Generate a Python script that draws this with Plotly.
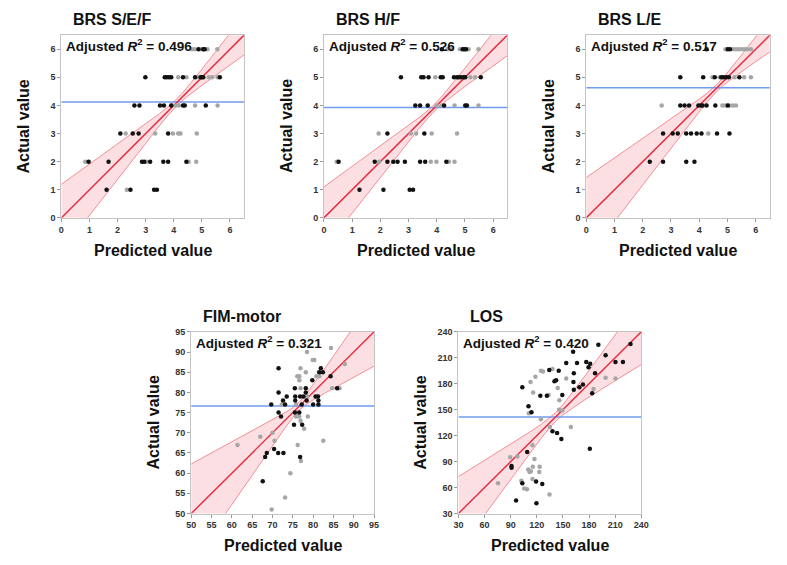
import plotly.graph_objects as go

W, H = 787, 565
FONT = "Liberation Sans, Arial, Helvetica, sans-serif"

# ---------------- data ----------------
titles = ["BRS S/E/F", "BRS H/F", "BRS L/E", "FIM-motor", "LOS"]
r2_labels = ["0.496", "0.526", "0.517", "0.321", "0.420"]
mean_actual = [4.12, 3.93, 4.63, 76.6, 141.5]
axis_ranges = [[0, 6.5], [0, 6.5], [0, 6.5], [50, 95], [30, 240]]
tick_vals = [[0, 1, 2, 3, 4, 5, 6], [0, 1, 2, 3, 4, 5, 6], [0, 1, 2, 3, 4, 5, 6],
             [50, 55, 60, 65, 70, 75, 80, 85, 90, 95],
             [30, 60, 90, 120, 150, 180, 210, 240]]

# panel 1: BRS S/E/F
p1_black_x = [4.88, 5.05, 5.1,
              2.99, 3.68, 3.75, 3.83, 3.91, 4.33, 4.76, 4.96, 5.0, 5.05, 5.64,
              2.6, 2.78, 3.51, 3.65, 3.91, 4.33, 4.39, 5.14,
              2.1, 2.54, 2.75, 3.8,
              0.97, 1.68, 2.87, 2.95, 3.16, 3.63, 3.8, 4.45,
              1.61, 2.46, 3.3, 3.4]
p1_black_y = [6] * 3 + [5] * 11 + [4] * 8 + [3] * 4 + [2] * 8 + [1] * 4
p1_gray_x = [4.65, 4.75, 4.98, 5.2, 5.55,
             4.16, 4.45, 4.88, 5.25, 5.37, 5.56,
             4.06, 4.18, 4.76, 5.56,
             2.29, 3.34, 3.97, 4.16, 4.24, 4.82,
             0.85, 3.03, 4.53, 4.8,
             2.33]
p1_gray_y = [6] * 5 + [5] * 6 + [4] * 4 + [3] * 6 + [2] * 4 + [1] * 1

# panel 2: BRS H/F
p2_black_x = [4.18, 4.92, 4.98, 5.04,
              2.73, 3.45, 3.53, 3.71, 4.14, 4.21, 4.61, 4.72, 4.78, 4.86, 4.96, 5.01, 5.56,
              3.24, 3.41, 3.68, 4.26, 5.01, 5.07,
              2.25, 3.56,
              0.52, 1.8, 2.25, 2.46, 2.61, 2.87, 3.41, 3.59, 4.34,
              1.26, 2.11, 3.04, 3.16]
p2_black_y = [6] * 4 + [5] * 13 + [4] * 6 + [3] * 2 + [2] * 9 + [1] * 4
p2_gray_x = [4.38, 4.53, 4.82, 5.13, 5.48,
             3.95, 5.19, 5.36,
             4.0, 4.17, 4.63, 5.48,
             1.94, 3.08, 3.27, 3.82, 4.72,
             0.45, 1.96, 3.79, 3.99, 4.43, 4.63]
p2_gray_y = [6] * 5 + [5] * 3 + [4] * 4 + [3] * 5 + [2] * 6

# panel 3: BRS L/E
p3_black_x = [4.26, 5.01, 5.09,
              3.33, 4.14, 4.55, 4.78, 4.86, 4.96, 5.05, 5.42,
              3.33, 3.48, 3.64, 3.97, 4.06, 4.12, 4.26, 4.57, 5.01,
              2.72, 3.06, 3.24, 3.54, 3.71, 3.91, 4.08, 4.63, 5.07,
              2.25, 2.72, 3.54, 3.83]
p3_black_y = [6] * 3 + [5] * 8 + [4] * 9 + [3] * 9 + [2] * 4
p3_gray_x = [4.93, 5.2, 5.3, 5.4, 5.5, 5.6, 5.7, 5.83,
             4.47, 4.72, 5.25, 5.59, 5.83,
             2.67, 4.82, 4.93, 5.07, 5.19, 5.3,
             4.32]
p3_gray_y = [6] * 8 + [5] * 5 + [4] * 6 + [3] * 1

# panel 4: FIM-motor
p4_black_x = [71.5, 81.9, 81.5, 82.4, 84.3, 79.8, 85.9, 71.5, 75.5, 78.2, 78.2, 73.5,
              72.6, 75.6, 75.6, 76.8, 77.6, 80.6, 81.2, 81.3, 78.4, 69.7, 73.1, 77.2,
              80.0, 81.3, 71.5, 75.5, 76.6, 72.1, 75.3, 77.3, 70.4, 68.6, 71.4, 72.7,
              68.2, 76.8, 67.6]
p4_black_y = [86, 86, 85, 85, 84, 83, 81, 80, 81, 81, 80, 79,
              78, 79, 78, 79, 79, 79, 79, 78, 78, 77, 77, 77,
              77, 77, 75, 75, 75, 74, 72, 72, 66, 65, 65, 65,
              64, 64, 58]
p4_gray_x = [84.4, 78.5, 79.9, 80.3, 76.9, 87.8, 76.1, 76.6, 78.2, 80.8, 81.5, 76.6,
             84.7, 86.5, 76.9, 78.5, 72.3, 75.8, 76.2, 75.8, 76.6, 78.7, 76.9, 77.8,
             70.0, 70.5, 67.0, 61.4, 76.2, 82.5, 77.0, 74.4, 73.1, 69.8]
p4_gray_y = [91, 90, 88, 88, 86, 87, 84, 84, 85, 84, 84, 83,
             81, 81, 81, 79, 77, 77, 75, 74, 74, 74, 73, 71,
             70, 68, 69, 67, 67, 68, 63, 60, 54, 51]

# panel 5: LOS
p5_black_x = [227.6, 190.7, 161.7, 199.0, 210.3, 218.9, 176.8, 179.4, 181.3, 166.2,
              153.8, 145.2, 134.3, 162.5, 186.9, 140.3, 142.2, 162.1, 173.0, 168.9,
              103.4, 183.6, 162.5, 124.1, 131.6, 149.3, 110.5, 113.9, 138.0, 143.3,
              148.2, 180.9, 109.0, 91.0, 91.0, 103.4, 119.2, 126.3, 96.2, 119.6]
p5_black_y = [226, 225, 217, 213, 205, 205, 205, 199, 203, 204,
              204, 195, 196, 192, 192, 183, 184, 182, 179, 176,
              176, 169, 173, 166, 166, 167, 154, 147, 125, 123,
              116, 105, 101, 85, 83, 65, 67, 64, 45, 42]
p5_gray_x = [124.8, 127.1, 138.0, 199.0, 210.3, 118.4, 112.8, 153.8, 144.0, 115.8,
             185.1, 133.5, 145.9, 110.9, 145.5, 149.3, 124.8, 135.0, 159.1, 115.1,
             117.3, 89.5, 97.7, 115.4, 113.2, 111.7, 123.3, 122.9, 110.2, 115.1,
             102.3, 75.5, 105.6, 108.7, 134.6]
p5_gray_y = [195, 194, 197, 187, 186, 188, 182, 186, 175, 170,
             174, 167, 161, 146, 150, 149, 139, 130, 130, 109,
             93, 95, 96, 84, 79, 78, 84, 78, 81, 70,
             68, 65, 59, 58, 52]

# confidence bands
band_x = [
    [0, 0.5, 1, 1.5, 2, 2.5, 3, 3.5, 3.8, 4.1, 4.4, 4.7, 5, 5.5, 6, 6.5],
    [0, 0.5, 1, 1.5, 2, 2.5, 3, 3.4, 3.7, 3.92, 4.2, 4.5, 5, 5.5, 6, 6.5],
    [0, 0.5, 1, 1.5, 2, 2.5, 3, 3.5, 4, 4.3, 4.62, 4.9, 5.2, 5.5, 6, 6.5],
    [50, 55, 60, 65, 70, 73, 75, 76.6, 78, 80, 83, 86, 90, 95],
    [30, 60, 90, 110, 125, 135, 141.5, 150, 160, 175, 195, 215, 240],
]
band_lo = [
    [-1.195, -0.551, 0.093, 0.737, 1.379, 2.021, 2.659, 3.289, 3.652, 3.98, 4.252, 4.489, 4.713, 5.077, 5.436, 5.794],
    [-1.104, -0.465, 0.174, 0.812, 1.449, 2.085, 2.716, 3.211, 3.565, 3.80, 4.057, 4.298, 4.675, 5.042, 5.405, 5.768],
    [-1.437, -0.783, -0.129, 0.525, 1.179, 1.832, 2.484, 3.133, 3.773, 4.144, 4.50, 4.752, 4.984, 5.202, 5.556, 5.905],
    [37.72, 45.01, 52.30, 59.57, 66.80, 71.07, 73.76, 75.6, 76.81, 78.14, 79.89, 81.56, 83.76, 86.48],
    [-12.66, 28.63, 69.80, 97.03, 116.98, 129.42, 136.5, 144.05, 151.37, 161.32, 174.06, 186.63, 202.24],
]
band_hi = [
    [1.195, 1.551, 1.907, 2.263, 2.621, 2.979, 3.341, 3.711, 3.948, 4.22, 4.548, 4.911, 5.287, 5.923, 6.564, 7.206],
    [1.104, 1.465, 1.826, 2.188, 2.551, 2.915, 3.284, 3.589, 3.835, 4.04, 4.343, 4.702, 5.325, 5.958, 6.595, 7.232],
    [1.437, 1.783, 2.129, 2.475, 2.821, 3.168, 3.516, 3.867, 4.227, 4.456, 4.74, 5.048, 5.416, 5.798, 6.444, 7.095],
    [62.28, 64.99, 67.70, 70.43, 73.20, 74.93, 76.24, 77.6, 79.19, 81.86, 86.11, 90.44, 96.25, 103.52],
    [72.66, 91.37, 110.20, 122.97, 133.02, 140.58, 146.5, 155.95, 168.63, 188.68, 215.94, 243.37, 277.76],
]

black_x = [p1_black_x, p2_black_x, p3_black_x, p4_black_x, p5_black_x]
black_y = [p1_black_y, p2_black_y, p3_black_y, p4_black_y, p5_black_y]
gray_x = [p1_gray_x, p2_gray_x, p3_gray_x, p4_gray_x, p5_gray_x]
gray_y = [p1_gray_y, p2_gray_y, p3_gray_y, p4_gray_y, p5_gray_y]

# ---------------- layout (pixel boxes of plot areas) ----------------
boxes = [  # left, right, top, bottom in px
    (57.3, 243.0, 30.7, 216.7),
    (324.3, 510.7, 30.7, 216.7),
    (591.0, 777.7, 30.7, 216.7),
    (189.3, 375.3, 332.7, 517.7),
    (461.0, 647.0, 332.7, 517.7),
]

fig = go.Figure()
layout = dict(
    width=W, height=H, margin=dict(l=0, r=0, t=0, b=0),
    paper_bgcolor="white", plot_bgcolor="white", showlegend=False,
    font=dict(family=FONT, color="#111"),
)
annotations = []

for i in range(5):
    n = "" if i == 0 else str(i + 1)
    xa, ya = "x" + n, "y" + n
    l, r, t, b = boxes[i]
    lo, hi = axis_ranges[i]
    axis_common = dict(
        range=[lo, hi], showline=True, linecolor="#c4c4c4", linewidth=1, mirror=True,
        ticks="outside", ticklen=3, tickcolor="#999", tickwidth=1,
        tickfont=dict(size=9, color="#333", family=FONT, weight="bold"),
        showgrid=False, zeroline=False, tickvals=tick_vals[i], fixedrange=True,
    )
    layout["xaxis" + n] = dict(axis_common, domain=[l / W, r / W], anchor=ya)
    layout["yaxis" + n] = dict(axis_common, domain=[1 - b / H, 1 - t / H], anchor=xa)

    # band
    fig.add_trace(go.Scatter(x=band_x[i], y=band_hi[i], mode="lines",
                             line=dict(color="rgba(240,110,120,0.75)", width=1),
                             xaxis=xa, yaxis=ya, hoverinfo="skip"))
    fig.add_trace(go.Scatter(x=band_x[i], y=band_lo[i], mode="lines",
                             line=dict(color="rgba(240,110,120,0.75)", width=1),
                             fill="tonexty", fillcolor="rgba(245,140,150,0.28)",
                             xaxis=xa, yaxis=ya, hoverinfo="skip"))
    # mean line
    fig.add_trace(go.Scatter(x=[lo, hi], y=[mean_actual[i], mean_actual[i]], mode="lines",
                             line=dict(color="#6f9cf0", width=1.5), xaxis=xa, yaxis=ya))
    # identity line
    fig.add_trace(go.Scatter(x=[lo, hi], y=[lo, hi], mode="lines",
                             line=dict(color="#e8283a", width=1.4), xaxis=xa, yaxis=ya))
    # points
    fig.add_trace(go.Scatter(x=gray_x[i], y=gray_y[i], mode="markers",
                             marker=dict(color="#a6a6a6", size=4.5), xaxis=xa, yaxis=ya))
    fig.add_trace(go.Scatter(x=black_x[i], y=black_y[i], mode="markers",
                             marker=dict(color="#111111", size=4.5), xaxis=xa, yaxis=ya))

    h = b - t
    wdt = r - l
    # panel title
    annotations.append(dict(text="<b>" + titles[i] + "</b>", xref=xa + " domain", yref=ya + " domain",
                            x=10 / wdt, y=1 + 15.5 / h, xanchor="left", yanchor="middle",
                            showarrow=False, font=dict(size=16, family=FONT, color="#111")))
    # R2
    annotations.append(dict(text="<b>Adjusted <i>R</i><sup>2</sup> = " + r2_labels[i] + "</b>",
                            xref=xa + " domain", yref=ya + " domain",
                            x=3 / wdt, y=1 - 10 / h, xanchor="left", yanchor="middle",
                            showarrow=False, font=dict(size=13.5, family=FONT, color="#111")))
    # axis titles
    annotations.append(dict(text="<b>Predicted value</b>", xref=xa + " domain", yref=ya + " domain",
                            x=0.5, y=-33 / h, xanchor="center", yanchor="middle",
                            showarrow=False, font=dict(size=16, family=FONT, color="#111")))
    annotations.append(dict(text="<b>Actual value</b>", xref=xa + " domain", yref=ya + " domain",
                            x=-38 / wdt, y=0.5, xanchor="center", yanchor="middle", textangle=-90,
                            showarrow=False, font=dict(size=16, family=FONT, color="#111")))

layout["annotations"] = annotations
fig.update_layout(**layout)
fig.write_html("out.html", config={"displayModeBar": False},
               post_script="document.body.style.margin='0px';")
